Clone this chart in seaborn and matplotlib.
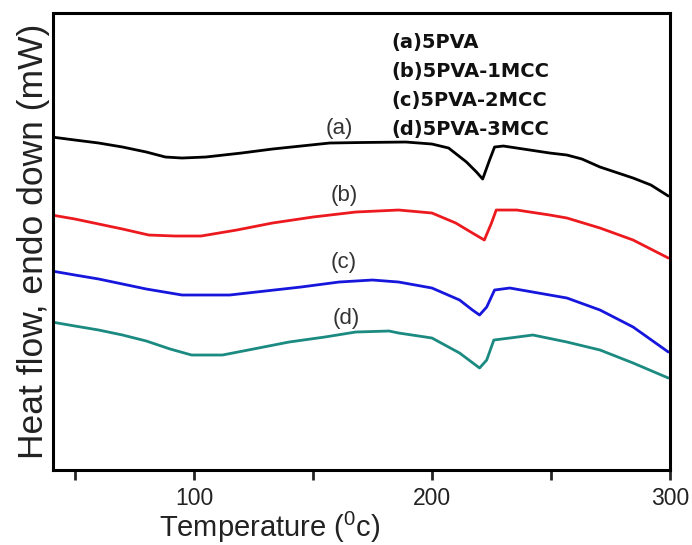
import matplotlib
matplotlib.use("Agg")
import matplotlib.pyplot as plt
import seaborn as sns
import numpy as np
from matplotlib.ticker import MultipleLocator

# ---- data ----
temp_a = [40.3, 50, 60, 70, 80, 88, 95, 105, 120, 133, 145, 157, 170, 189, 200, 207,
          214.5, 218.7, 221.3, 224.2, 226.3, 230, 235.6, 249.5, 256.7, 263, 270.6, 284.5, 292, 299.3]
heat_a = [31.5, 31.2, 30.9, 30.5, 30.0, 29.5, 29.4, 29.5, 29.9, 30.3, 30.6, 30.9, 30.95, 31.0, 30.8, 30.4,
          29.0, 28.0, 27.3, 29.2, 30.5, 30.6, 30.4, 29.9, 29.7, 29.3, 28.5, 27.4, 26.7, 25.6]

temp_b = [40.3, 50, 60, 70, 81, 92, 103, 118, 133, 150, 168, 186, 200, 210, 217, 222, 225, 227,
          235.6, 249.5, 256.7, 270.6, 284.5, 299.3]
heat_b = [23.7, 23.3, 22.8, 22.3, 21.7, 21.6, 21.6, 22.2, 22.9, 23.5, 24.0, 24.2, 23.9, 22.9, 21.9, 21.2, 22.9, 24.2,
          24.2, 23.7, 23.4, 22.4, 21.2, 19.4]

temp_c = [40.3, 50, 60, 70, 80, 95, 115, 130, 145, 161, 175, 186, 200, 211.6, 217, 220, 223, 226.3,
          232.7, 249.5, 256.7, 270.6, 284.5, 299.3]
heat_c = [18.1, 17.7, 17.3, 16.8, 16.3, 15.7, 15.7, 16.1, 16.5, 17.0, 17.2, 17.0, 16.4, 15.2, 14.2, 13.7, 14.5, 16.2,
          16.4, 15.7, 15.4, 14.2, 12.5, 10.0]

temp_d = [40.3, 50, 60, 70, 80, 90, 99, 112, 125, 140, 155, 168, 182, 186, 200, 211.6, 220, 223, 226,
          232.7, 242.4, 256.7, 270.6, 284.5, 299.3]
heat_d = [13.0, 12.6, 12.2, 11.7, 11.1, 10.3, 9.7, 9.7, 10.3, 11.0, 11.5, 12.0, 12.1, 11.9, 11.4, 9.9, 8.4, 9.2, 11.2,
          11.4, 11.7, 11.0, 10.2, 8.9, 7.4]

curve_tags = ["(a)", "(b)", "(c)", "(d)"]
legend_texts = ["(a)5PVA", "(b)5PVA-1MCC", "(c)5PVA-2MCC", "(d)5PVA-3MCC"]
x_ticks = [100, 200, 300]

# ---- style ----
sns.set_style("white")
plt.rcParams['font.family'] = ['Liberation Sans', 'DejaVu Sans']
plt.rcParams['mathtext.fontset'] = 'custom'
plt.rcParams['mathtext.rm'] = 'Liberation Sans'

fig = plt.figure(figsize=(6.92, 5.45), dpi=100)
ax = fig.add_axes([0.0766, 0.1376, 0.8916, 0.8385])

colors = ["#000000", "#ec1a1f", "#1616dc", "#1b8a80"]
series = [(temp_a, heat_a), (temp_b, heat_b), (temp_c, heat_c), (temp_d, heat_d)]
for (t, h), c in zip(series, colors):
    sns.lineplot(x=t, y=h, color=c, linewidth=2.0, ax=ax, legend=False)

tag_pos = [(161, 32.4), (163, 25.7), (163, 19.0), (164, 13.4)]
for tag, (tx, ty) in zip(curve_tags, tag_pos):
    ax.text(tx, ty, tag, ha='center', va='center', fontsize=16, color='#333333')

leg_y = [41.0, 38.1, 35.2, 32.3]
for txt, ly in zip(legend_texts, leg_y):
    ax.text(183, ly, txt, ha='left', va='center', fontsize=14, fontweight='bold',
            color='#111111', family='DejaVu Sans')

ax.set_xlim(40.8, 300)
ax.set_ylim(-1.8, 43.9)
ax.set_xticks(x_ticks)
ax.xaxis.set_minor_locator(MultipleLocator(50))
ax.set_yticks([])
ax.tick_params(axis='x', which='both', direction='out', length=7, width=2, labelsize=16.5, pad=5,
               bottom=True, labelcolor='#222222')
for sp in ax.spines.values():
    sp.set_linewidth(2.2)
    sp.set_color('black')

ax.set_xlabel(r"Temperature ($\mathregular{^0}$c)", fontsize=21, color='#222222')
ax.xaxis.set_label_coords(0.352, -0.088)
ax.set_ylabel("Heat flow, endo down (mW)", fontsize=25.5, labelpad=2, color='#222222')

fig.savefig("out.png", dpi=100)
